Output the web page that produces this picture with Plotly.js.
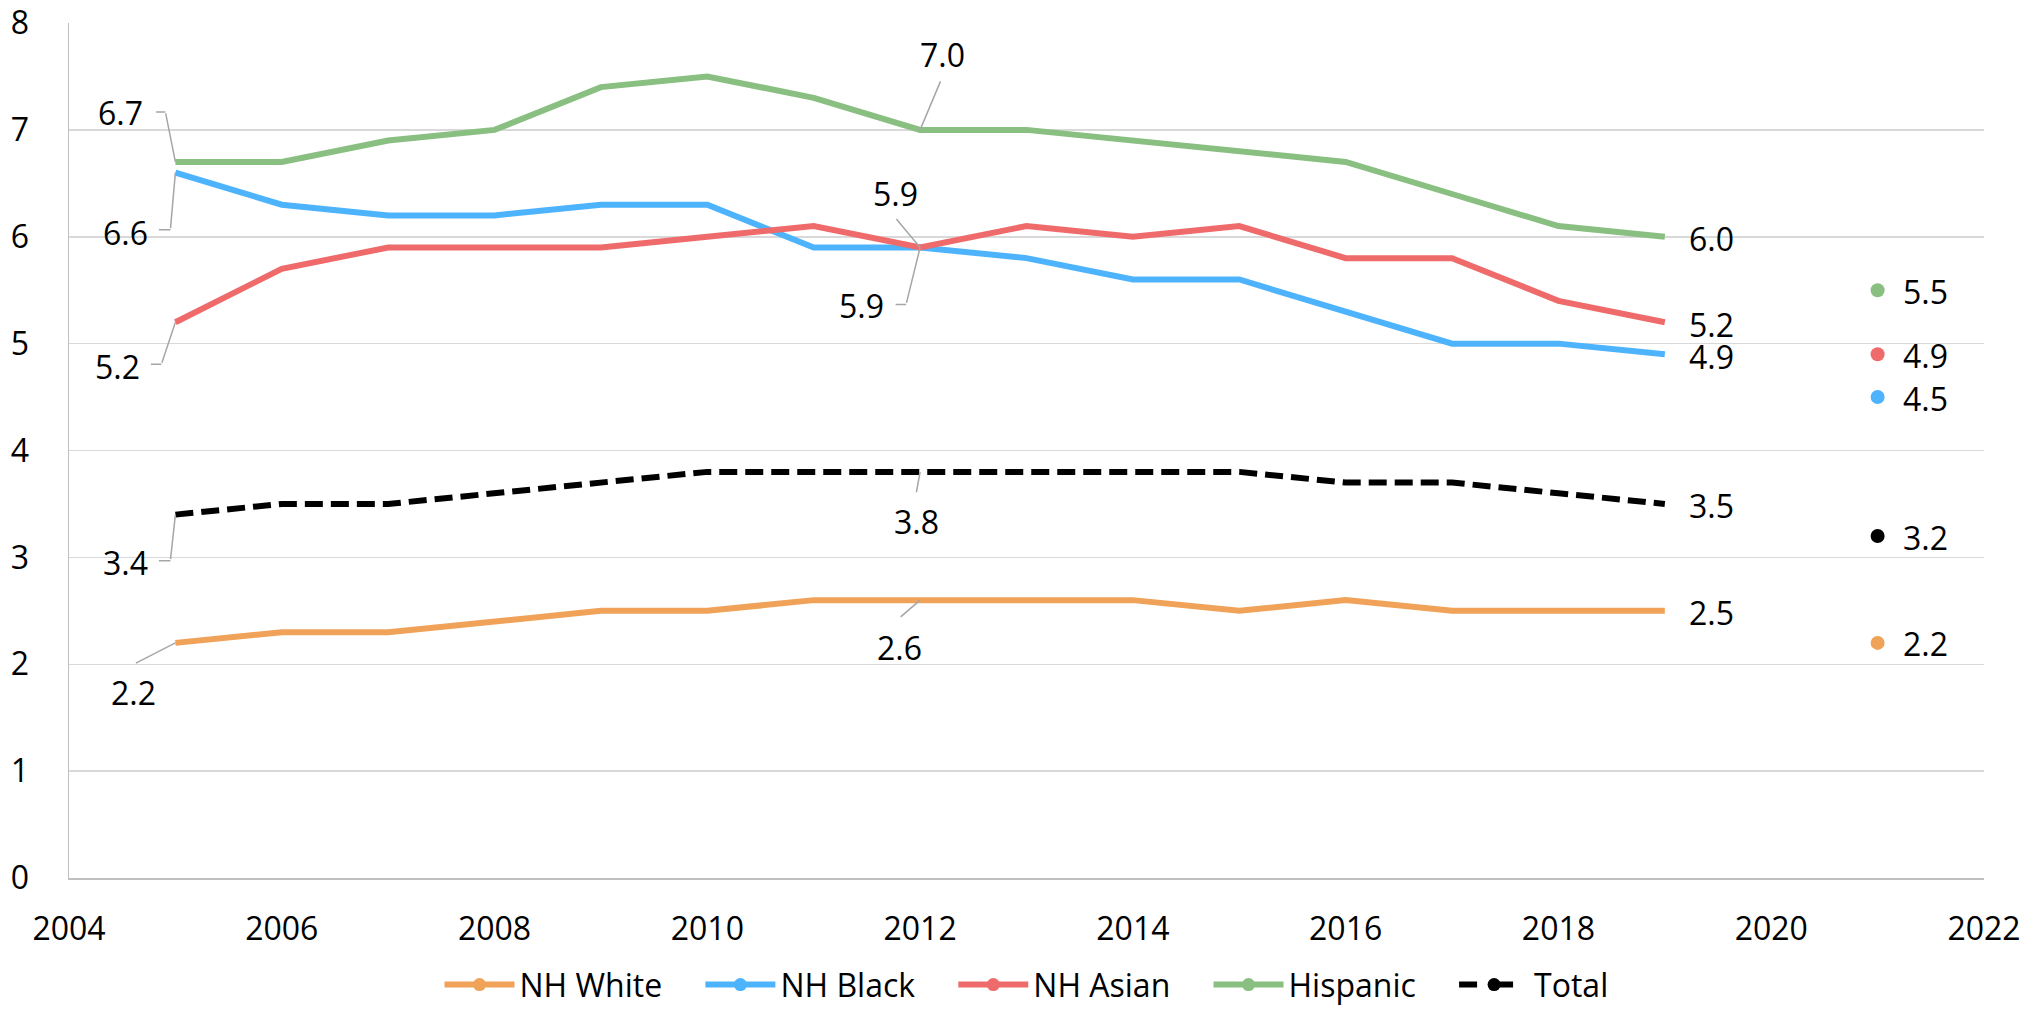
<!DOCTYPE html>
<html><head><meta charset="utf-8">
<script src="https://cdn.plot.ly/plotly-3.0.1.min.js"></script>
<style>html,body{margin:0;padding:0;background:#fff}#chart{width:2035px;height:1013px}</style>
</head><body><div id="chart"></div>
<script>
// ---- data ----
const years    = [2005,2006,2007,2008,2009,2010,2011,2012,2013,2014,2015,2016,2017,2018,2019];
const nhWhite  = [2.2,2.3,2.3,2.4,2.5,2.5,2.6,2.6,2.6,2.6,2.5,2.6,2.5,2.5,2.5];
const nhBlack  = [6.6,6.3,6.2,6.2,6.3,6.3,5.9,5.9,5.8,5.6,5.6,5.3,5.0,5.0,4.9];
const nhAsian  = [5.2,5.7,5.9,5.9,5.9,6.0,6.1,5.9,6.1,6.0,6.1,5.8,5.8,5.4,5.2];
const hispanic = [6.7,6.7,6.9,7.0,7.4,7.5,7.3,7.0,7.0,6.9,6.8,6.7,6.4,6.1,6.0];
const total    = [3.4,3.5,3.5,3.6,3.7,3.8,3.8,3.8,3.8,3.8,3.8,3.7,3.7,3.6,3.5];
const extraYear = [2021];
const white2021 = [2.2];
const black2021 = [4.5];
const asian2021 = [4.9];
const hispanic2021 = [5.5];
const total2021 = [3.2];
const seriesNames = ['NH White','NH Black','NH Asian','Hispanic','Total'];
const xTicks = [2004,2006,2008,2010,2012,2014,2016,2018,2020,2022];

// ---- styles ----
const colors = ['#F0A259','#4EB3FD','#EF6B6B','#89BF80','#000000'];
const FONT = 'Open Sans, Noto Sans, sans-serif';
const FS = 32;
const LW = 6;
const seriesVals = [nhWhite,nhBlack,nhAsian,hispanic,total];
const vals2021 = [white2021,black2021,asian2021,hispanic2021,total2021];

const traces = [];
seriesVals.forEach((v,i)=>{
  traces.push({x:years,y:v,type:'scatter',mode:'lines',showlegend:false,hoverinfo:'skip',
    line:{color:colors[i],width:LW,dash:i===4?'18px,8px':'solid'}});
});
vals2021.forEach((v,i)=>{
  traces.push({x:extraYear,y:v,type:'scatter',mode:'markers',showlegend:false,hoverinfo:'skip',
    marker:{color:colors[i],size:14}});
});
const pad = '\u00a0\u00a0\u00a0\u00a0';
seriesNames.forEach((n,i)=>{
  traces.push({x:[null],y:[null],type:'scatter',mode:'lines+markers',name:n+(i<4?pad:''),
    line:{color:colors[i],width:LW,dash:i===4?'dash':'solid'},marker:{color:colors[i],size:13}});
});

const annotations = [];
const LEAD = '#A6A6A6';
function leader(xv,yv,path){
  let prev=[0,0];
  path.forEach(p=>{
    annotations.push({x:xv,y:yv,xref:'x',yref:'y',xshift:prev[0],yshift:-prev[1],
      ax:p[0]-prev[0],ay:p[1]-prev[1],text:'',showarrow:true,arrowhead:0,
      arrowwidth:1.5,arrowcolor:LEAD,standoff:0,startstandoff:0});
    prev=p;
  });
}
function label(xv,yv,dx,dy,anchor){
  annotations.push({x:xv,y:yv,xref:'x',yref:'y',xshift:dx,yshift:-dy,text:yv.toFixed(1),
    showarrow:false,xanchor:anchor||'center',yanchor:'middle',font:{family:FONT,size:FS,color:'#000'}});
}
// left labels (2005)
const i0=0, im=7, ie=14;
leader(years[i0],hispanic[i0],[[-10,-50],[-21,-50]]); label(years[i0],hispanic[i0],-55,-49);
leader(years[i0],nhBlack[i0],[[-5,57],[-18,57]]);     label(years[i0],nhBlack[i0],-50,60);
leader(years[i0],nhAsian[i0],[[-14,42],[-26,42]]);    label(years[i0],nhAsian[i0],-58,44);
leader(years[i0],total[i0],[[-5,46],[-18,46]]);       label(years[i0],total[i0],-50,48);
leader(years[i0],nhWhite[i0],[[-41,21]]);             label(years[i0],nhWhite[i0],-42,50);
// middle labels (2012)
leader(years[im],hispanic[im],[[21,-50]]);            label(years[im],hispanic[im],22,-75);
leader(years[im],nhAsian[im],[[-25,-30]]);            label(years[im],nhAsian[im],-25,-54);
leader(years[im],nhBlack[im],[[-14,57],[-26,57]]);    label(years[im],nhBlack[im],-59,58);
leader(years[im],total[im],[[-4,22]]);                label(years[im],total[im],-4,50);
leader(years[im],nhWhite[im],[[-21,18]]);             label(years[im],nhWhite[im],-21,47);
// end labels (2019)
seriesVals.forEach(v=>label(years[ie],v[ie],22,2,'left'));
// 2021 labels
vals2021.forEach(v=>label(extraYear[0],v[0],23,1,'left'));

const axisFont = {family:FONT,size:FS,color:'#000'};
const layout = {
  width:2035,height:1013,
  margin:{l:69,r:51,t:23,b:135,autoexpand:false},
  paper_bgcolor:'#fff',plot_bgcolor:'#fff',
  font:{family:FONT,size:FS,color:'#000'},
  xaxis:{range:[2004,2022],tickvals:xTicks,ticktext:xTicks.map(String),showgrid:false,zeroline:false,
    showline:true,linecolor:'#BFBFBF',linewidth:1.5,ticks:'outside',ticklen:22,tickcolor:'rgba(0,0,0,0)',
    tickfont:axisFont,automargin:false},
  yaxis:{range:[0,8],dtick:1,showgrid:true,gridcolor:'#D9D9D9',gridwidth:1.5,zeroline:false,
    showline:true,linecolor:'#BFBFBF',linewidth:1.5,ticks:'outside',ticklen:32,tickcolor:'rgba(0,0,0,0)',
    tickfont:axisFont,automargin:false},
  legend:{orientation:'h',x:0.5,xanchor:'center',y:-0.157,yanchor:'bottom',
    font:{family:FONT,size:FS,color:'#000'},itemwidth:70,tracegroupgap:0},
  annotations:annotations,
  showlegend:true
};
Plotly.newPlot('chart',traces,layout,{displayModeBar:false,staticPlot:true});
</script></body></html>
